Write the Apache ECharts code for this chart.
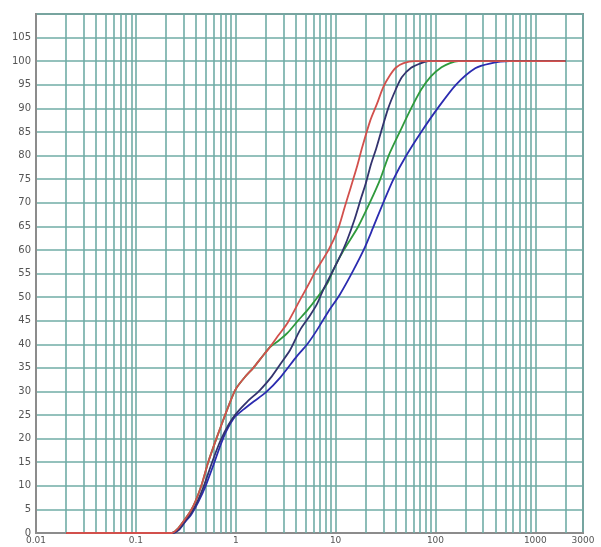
<!DOCTYPE html>
<html>
<head>
<meta charset="utf-8">
<script src="https://cdn.jsdelivr.net/npm/echarts@6/dist/echarts.min.js"></script>
<style>
html,body{margin:0;padding:0;background:#fff;}
#c{width:601px;height:547px;}
</style>
</head>
<body>
<div id="c"></div>
<script>
// ---- data (particle size, cumulative %) ----
const redSize   = [0.02,0.23,0.26,0.3,0.35,0.4,0.46,0.53,0.64,0.77,0.88,1.0,1.23,1.5,1.75,2.2,2.7,3.3,4.4,5.3,6.3,8.5,10.5,12.3,14.2,16.3,18.5,22.3,26,30,35,40,48,62,2000];
const redPct    = [0,0,0.8,2.5,4.5,7,10.5,15,20,24.6,27.8,30.5,33,35,36.8,39.4,42,44.5,49.4,52.5,55.5,60,64.2,69,73.3,77.5,81.8,87.5,91,94.5,97,98.6,99.6,100,100];

const greenSize = [0.02,0.23,0.26,0.3,0.35,0.4,0.46,0.53,0.64,0.77,0.88,1.0,1.23,1.5,1.75,2.2,2.7,3.3,4.2,5.2,6.5,8.3,9.6,12.1,16.7,22,28,34,45,57,72,90,115,140,170,2000];
const greenPct  = [0,0,0.8,2.5,4.5,7,10.5,15,20,24.6,27.8,30.5,33,35,36.8,39.4,40.8,42.4,45,47.2,49.8,53,56,60,64.8,70,75,80,85.5,90,94,96.8,98.7,99.6,100,100];

const navySize  = [0.02,0.23,0.27,0.31,0.36,0.41,0.48,0.58,0.7,0.85,1.0,1.3,1.75,2.3,2.8,3.5,4.4,5.5,6.5,7.5,9,11,13,15.5,18,20,22.5,25.5,28.5,33.6,40,46,57,72,85,2000];
const navyPct   = [0,0,0.8,2.5,4.3,6.5,10,15,19.5,23,25.2,27.8,30.3,33.2,35.8,38.8,43,46,48.5,51.5,54.8,58.5,62,66.5,71,74,78,81.5,85,90,94,96.6,98.6,99.6,100,100];

const blueSize  = [0.02,0.23,0.27,0.31,0.36,0.42,0.5,0.6,0.7,0.8,0.97,1.2,1.5,2.0,2.8,4.1,5.2,6.5,8.5,11,14.9,19.3,23.6,30,38,51,72,105,160,250,350,550,2000];
const bluePct   = [0,0,0.7,2.3,4,6.5,10,14.5,18.5,21.5,24.5,26.2,27.8,29.8,33,37.5,40,43,47,50.5,55.5,60.2,64.6,70,75,80,85,90,95,98.5,99.5,100,100];

const xTickLabels = ['0.01','0.1','1','10','100','1000','3000'];
const yMin = 0, yMax = 110, yStep = 5;
const xMin = 0.01, xMax = 3000;
const gridDecades = [0.01,0.1,1,10,100,1000];
const gridMultipliers = [2,3,4,5,6,7,8,9];

function pairs(xs, ys){ return xs.map((x,i)=>[x, ys[i]]); }

// minor vertical grid line positions
const minorX = [];
gridDecades.forEach(d => gridMultipliers.forEach(m => {
  const v = +(d*m).toPrecision(6);
  if (v < xMax) minorX.push(v);
}));

const gridColor = '#70aca6';
const chart = echarts.init(document.getElementById('c'));
const curve = (xs, ys, color) => ({
  type:'line', data: pairs(xs, ys), showSymbol:false, smooth:0.25,
  z:5, lineStyle:{color: color, width:1.8}
});
chart.setOption({
  animation: false,
  backgroundColor: '#fff',
  grid: {left: 36, right: 18, top: 14, bottom: 14, show: true, borderColor: '#8c8c8c', borderWidth: 2},
  xAxis: {
    type: 'log', logBase: 10, min: xMin, max: xMax,
    axisLine: {show: true, lineStyle: {color: '#8c8c8c', width: 2}},
    axisTick: {show: false},
    splitLine: {show: true, lineStyle: {color: gridColor, width: 1.6}},
    axisLabel: {
      color: '#555', fontSize: 9, fontFamily: 'DejaVu Sans', margin: 3,
      showMinLabel: true, showMaxLabel: true,
      formatter: v => {
        const s = String(+(+v).toPrecision(6));
        return xTickLabels.indexOf(s) >= 0 ? s : '';
      }
    }
  },
  yAxis: {
    type: 'value', min: yMin, max: yMax, interval: yStep,
    axisLine: {show: true, lineStyle: {color: '#8c8c8c', width: 2}},
    axisTick: {show: false},
    splitLine: {show: true, lineStyle: {color: gridColor, width: 1.6}},
    axisLabel: {
      color: '#555', fontSize: 10, fontFamily: 'DejaVu Sans', margin: 5,
      formatter: v => v >= yMax ? '' : String(v)
    }
  },
  series: [
    {
      type: 'line', data: [], silent: true, z: 1,
      markLine: {
        silent: true, symbol: 'none', animation: false,
        label: {show: false},
        lineStyle: {color: gridColor, width: 1.6, type: 'solid'},
        data: minorX.map(v => ({xAxis: v}))
      }
    },
    curve(blueSize, bluePct, '#2b2bb0'),
    curve(greenSize, greenPct, '#2f9a3c'),
    curve(navySize, navyPct, '#33336e'),
    curve(redSize, redPct, '#d2504c')
  ]
});
</script>
</body>
</html>
